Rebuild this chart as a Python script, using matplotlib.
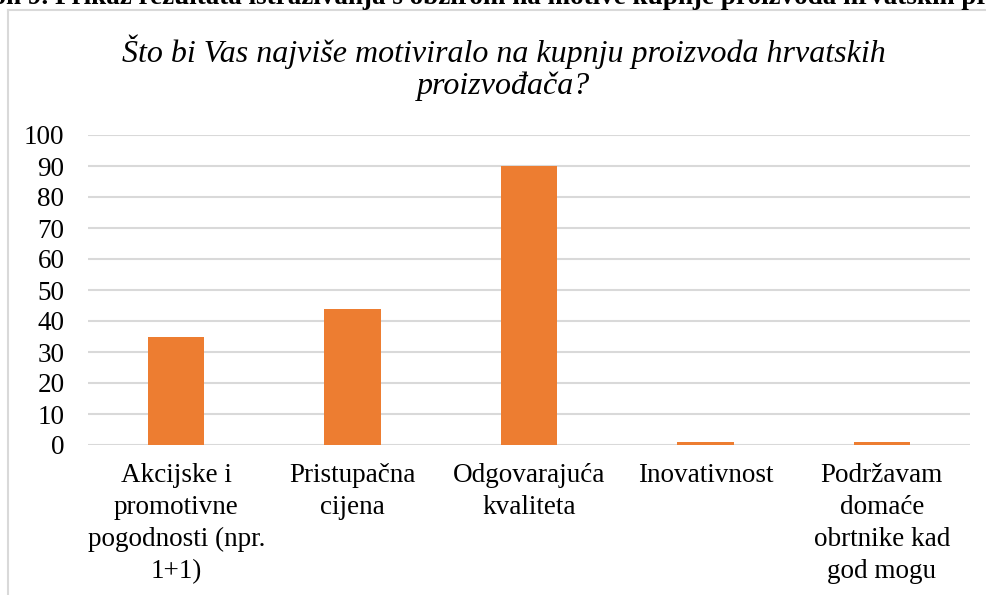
import matplotlib
matplotlib.use("Agg")
import matplotlib.pyplot as plt
from matplotlib.lines import Line2D

categories = [
    "Akcijske i\npromotivne\npogodnosti (npr.\n1+1)",
    "Pristupačna\ncijena",
    "Odgovarajuća\nkvaliteta",
    "Inovativnost",
    "Podržavam\ndomaće\nobrtnike kad\ngod mogu",
]
values = [35, 44, 90, 1, 1]
yticks = [0, 10, 20, 30, 40, 50, 60, 70, 80, 90, 100]
title = "Što bi Vas najviše motiviralo na kupnju proizvoda hrvatskih\nproizvođača?"
caption = "Grafikon 9. Prikaz rezultata istraživanja s obzirom na motive kupnje proizvoda hrvatskih proizvođača"

plt.rcParams['font.family'] = ['Liberation Serif', 'DejaVu Serif']

W, H = 987, 595
fig = plt.figure(figsize=(W / 100, H / 100), dpi=100)

def fx(px):
    return px / W

def fy(py):
    return 1 - py / H

ax = fig.add_axes([fx(88), fy(445), fx(970) - fx(88), fy(135) - fy(445)])
x = list(range(len(categories)))
ax.bar(x, values, width=0.32, color="#ED7D31", zorder=3)
ax.set_xlim(-0.5, len(categories) - 0.5)
ax.set_ylim(0, 100)
ax.set_yticks(yticks)
ax.set_yticklabels([str(t) for t in yticks], fontsize=19.5, color="#000000")
ax.yaxis.grid(True, color="#d9d9d9", linewidth=1.5, zorder=0)
ax.set_axisbelow(True)
for s in ax.spines.values():
    s.set_visible(False)
ax.tick_params(axis="y", length=0, pad=17)
ax.tick_params(axis="x", length=0, pad=13)
ax.set_xticks(x)
ax.set_xticklabels(categories, fontsize=19.5, linespacing=1.37, va="top")
for lbl in ax.get_yticklabels():
    lbl.set_horizontalalignment("right")

# chart frame
fig.add_artist(Line2D([fx(8), fx(8)], [fy(10), 0], color="#d9d9d9", linewidth=1.5))
fig.add_artist(Line2D([fx(8), 1], [fy(10), fy(10)], color="#d9d9d9", linewidth=1.5))

fig.text(fx(504), fy(68), title, ha="center", va="center", fontsize=23,
         style="italic", linespacing=1.12)

# partially visible caption at the very top (cut off as in the reference)
fig.text(fx(-86), fy(-2), caption, ha="left", va="center", fontsize=19.5,
         fontweight="bold")

fig.savefig("out.png", dpi=100)
